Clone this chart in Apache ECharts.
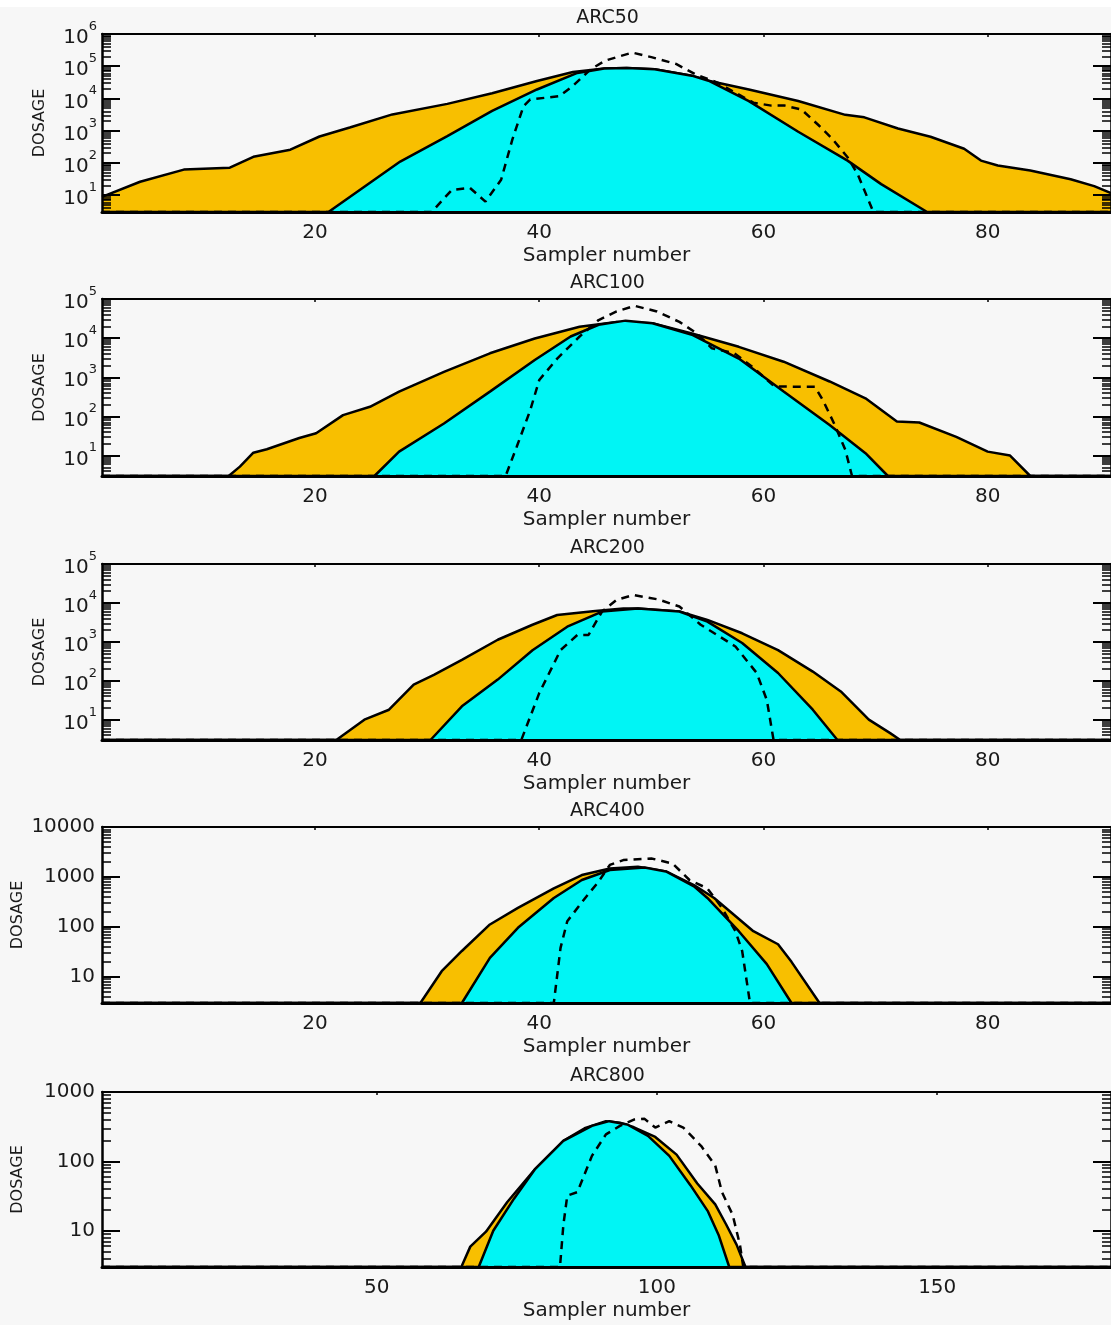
<!DOCTYPE html>
<html>
<head>
<meta charset="utf-8">
<script src="https://cdn.jsdelivr.net/npm/echarts@6/dist/echarts.min.js"></script>
<style>
html,body{margin:0;padding:0;background:#ffffff;}
#chart{width:1111px;height:1325px;}
</style>
</head>
<body>
<div id="chart"></div>
<script>
// ---------------- data ----------------
const panelTitles = ['ARC50', 'ARC100', 'ARC200', 'ARC400', 'ARC800'];
const samplerRange = [[1, 91], [1, 91], [1, 91], [1, 91], [1, 181]];
const xTickLabels = [[20, 40, 60, 80], [20, 40, 60, 80], [20, 40, 60, 80], [20, 40, 60, 80], [50, 100, 150]];
const dosageMin = 3;
const dosageMax = [1e6, 1e5, 1e5, 1e4, 1e3];
const dosageDecades = [
  [10, 100, 1e3, 1e4, 1e5, 1e6],
  [10, 100, 1e3, 1e4, 1e5],
  [10, 100, 1e3, 1e4, 1e5],
  [10, 100, 1000, 10000],
  [10, 100, 1000]
];
const superscriptLabels = [true, true, true, false, false];

// [sampler, dosage] pairs
const arc50Orange = [[1,8.8],[4.4,26],[8.3,62],[12.4,71],[14.5,155],[17.8,257],[20.4,660],[23.1,1260],[26.9,3200],[31.8,6800],[35.8,14500],[39.8,35000],[43,66000],[45.8,85000],[47.8,88000],[50.3,80000],[53.6,51000],[55.1,35500],[58.7,19000],[63.1,8300],[67.3,3100],[69,2600],[72,1170],[74.9,650],[77.9,275],[79.4,118],[80.9,83],[83.8,58],[87.4,31],[89.5,19],[91,11.5]];
const arc50Cyan = [[1,3],[21.2,3],[27.6,110],[31.8,680],[35.8,4100],[39.8,19000],[43.4,62000],[45.8,85000],[47.8,88000],[50.3,80000],[53.6,51000],[55.1,35500],[58.7,8300],[63.1,930],[67.5,118],[70.5,22],[74.6,3],[91,3]];
const arc50Dashed = [[1,3],[30.4,3],[32.2,14.5],[33.8,17],[35.2,6.3],[36.6,30],[37.6,530],[38.6,5800],[39.2,9300],[41.8,11800],[43,24500],[44.6,81000],[45.9,150000],[48.3,265000],[50,192000],[52.2,118000],[53.9,57000],[55.9,31000],[57.5,15000],[59.1,7400],[60.7,6000],[61.9,6000],[63.4,4500],[64.9,1500],[66.1,580],[67.5,150],[68.4,45],[69.3,8],[69.8,3],[91,3]];

const arc100Orange = [[1,3],[12.3,3],[13.3,5.2],[14.5,11.8],[15.7,14.5],[18.6,28],[20.1,37],[22.5,108],[24.9,176],[27.5,430],[31.5,1380],[35.6,4100],[39.6,9800],[43.6,19500],[46.9,26000],[50.1,24000],[53.7,13000],[57.8,6000],[61.8,2500],[65.9,780],[69.1,290],[71.9,74],[73.9,70],[77.2,30],[80,12.6],[82,10],[83.8,3],[91,3]];
const arc100Cyan = [[1,3],[25.3,3],[27.5,12.6],[31.5,66],[35.6,430],[39.6,2750],[42.8,11000],[45.3,22000],[47.7,28000],[50.1,24000],[53.7,12000],[57.8,3000],[61.8,430],[65.9,60],[69.1,11.5],[71.1,3],[91,3]];
const arc100Dashed = [[1,3],[37,3],[38,17],[39.2,145],[40,850],[41.6,3000],[43.6,11000],[45.3,29000],[46.9,48000],[48.5,67000],[50.5,48000],[52.5,26000],[54.1,13000],[55.4,5500],[57.4,4100],[59,1850],[61,580],[64.6,570],[65.3,260],[66.3,66],[67.3,14],[67.9,3],[91,3]];

const arc200Orange = [[1,3],[21.9,3],[24.4,10],[26.6,18],[28.8,79],[30.6,142],[33.1,345],[36.3,1130],[39.4,2750],[41.6,4900],[45,6200],[47.5,7200],[48.8,7200],[52.5,6000],[55,3650],[58.1,1660],[61.3,610],[64.4,172],[66.9,53],[69.4,10],[71.3,4.5],[72.2,3],[91,3]];
const arc200Cyan = [[1,3],[30.3,3],[33.1,22],[36.3,107],[39.4,610],[42.5,2450],[45.6,6000],[48.8,7200],[52.5,6000],[55,3300],[58.1,930],[61.3,158],[64.4,18],[66.6,3],[91,3]];
const arc200Dashed = [[1,3],[38.4,3],[40,48],[41.9,610],[43.4,1500],[44.4,1500],[45.6,6000],[46.9,12000],[48.4,16000],[50.6,12300],[52.5,8100],[54.4,2750],[57.5,760],[59.4,158],[60.3,32],[60.9,3],[91,3]];

const arc400Orange = [[1,3],[29.4,3],[31.3,13],[33.1,33],[35.6,112],[38.1,240],[41.3,590],[43.8,1090],[46.3,1480],[48.8,1600],[51.3,1290],[53.8,690],[55.6,380],[59.1,82],[61.3,45],[62.5,20],[65,3],[91,3]];
const arc400Cyan = [[1,3],[33.1,3],[35.6,24],[38.1,96],[41.3,380],[43.8,870],[46.3,1380],[49.4,1550],[51.3,1290],[53.8,650],[55,380],[57.8,82],[60.3,18],[62.5,3],[91,3]];
const arc400Dashed = [[1,3],[41.3,3],[41.9,38],[42.5,130],[44.1,380],[45.3,810],[46.3,1740],[47.5,2180],[50,2350],[51.9,1850],[53.4,870],[55,590],[56.3,240],[57.5,82],[58.1,33],[58.8,3],[91,3]];

const arc800Orange = [[1,3],[65.1,3],[66.7,5.9],[69.5,9.7],[73.3,26],[78.3,78],[83.3,198],[87.1,300],[90.9,380],[93.4,360],[95.9,310],[99.7,225],[103.5,125],[107.2,48],[110.4,24],[112.3,12.5],[114.2,6.3],[115.8,3],[181,3]];
const arc800Cyan = [[1,3],[68.2,3],[70.8,10],[74.5,29],[78.3,78],[83.3,198],[88.4,325],[91.5,380],[94.7,340],[98.4,233],[102.2,120],[106,45],[109.1,19],[111,8.7],[112.9,3],[181,3]];
const arc800Dashed = [[1,3],[82.7,3],[83.3,12],[84,32],[85.8,36],[88.4,120],[90.9,245],[93.4,325],[95.9,400],[97.8,410],[99.7,307],[102.2,380],[104.7,307],[107.9,166],[110.4,87],[111.6,36],[113.5,17],[114.8,6.3],[115.4,3],[181,3]];

const orangeSeries = [arc50Orange, arc100Orange, arc200Orange, arc400Orange, arc800Orange];
const cyanSeries = [arc50Cyan, arc100Cyan, arc200Cyan, arc400Cyan, arc800Cyan];
const dashedSeries = [arc50Dashed, arc100Dashed, arc200Dashed, arc400Dashed, arc800Dashed];

// ---------------- layout / style ----------------
const gridTop = [34, 299, 564, 827, 1092];
const gridHeight = [178, 177, 176, 176, 175];
const gridLeft = 102;
const gridWidth = 1011;
const dosageNameX = [40, 40, 40, 18, 18];
const yLabelMargin = [5, 5, 5, 7, 7];
const FONT = 'DejaVu Sans';
const TXT = '#1a1a1a';
const ORANGE = '#F8BF00';
const CYAN = '#00F5F5';

const option = {
  backgroundColor: '#F7F7F7',
  animation: false,
  grid: [], xAxis: [], yAxis: [], series: [],
  graphic: [{ type: 'rect', shape: { x: 0, y: 0, width: 1111, height: 7 }, style: { fill: '#ffffff' }, silent: true }]
};

function minorValues(max) {
  const vals = [];
  for (let d = 1; d < max; d *= 10) {
    for (let k = 2; k <= 9; k++) {
      const v = k * d;
      if (v >= dosageMin && v < max) vals.push(v);
    }
  }
  return vals;
}

panelTitles.forEach((title, i) => {
  option.grid.push({ left: gridLeft, top: gridTop[i], width: gridWidth, height: gridHeight[i] });
  const [xmin, xmax] = samplerRange[i];
  option.xAxis.push({
    type: 'value', gridIndex: i, min: xmin, max: xmax, position: 'bottom', z: 6,
    axisLine: { show: true, onZero: false, lineStyle: { color: '#000', width: 3 } },
    axisTick: { show: false },
    splitLine: { show: false },
    axisLabel: { customValues: xTickLabels[i], fontFamily: FONT, fontSize: 20, color: TXT, margin: 11 },
    name: 'Sampler number', nameLocation: 'middle', nameGap: 34,
    nameTextStyle: { fontFamily: FONT, fontSize: 20, color: TXT }
  });
  option.xAxis.push({
    type: 'value', gridIndex: i, min: xmin, max: xmax, position: 'top', z: 6,
    axisLine: { show: true, onZero: false, lineStyle: { color: '#000', width: 2 } },
    axisTick: { show: true, inside: true, length: 3, customValues: xTickLabels[i], lineStyle: { color: '#000', width: 1.5 } },
    axisLabel: { show: false },
    splitLine: { show: false }
  });
  const decades = dosageDecades[i];
  const minors = minorValues(dosageMax[i]);
  const sup = superscriptLabels[i];
  const baseY = { type: 'log', logBase: 10, gridIndex: i, min: dosageMin, max: dosageMax[i], z: 6, splitLine: { show: false }, minorTick: { show: false } };
  option.yAxis.push(Object.assign({}, baseY, {
    position: 'left',
    axisLine: { show: true, onZero: false, lineStyle: { color: '#000', width: 2.5 } },
    axisTick: { show: true, inside: true, length: 18, customValues: decades, lineStyle: { color: '#000', width: 2 } },
    axisLabel: {
      customValues: decades, margin: yLabelMargin[i],
      fontFamily: FONT, fontSize: 20, color: TXT,
      formatter: v => sup ? ('{b|10}{e|' + Math.round(Math.log10(v)) + '}') : String(Math.round(v)),
      rich: {
        b: { fontFamily: FONT, fontSize: 20, color: TXT, verticalAlign: 'bottom', lineHeight: 28 },
        e: { fontFamily: FONT, fontSize: 13, color: TXT, verticalAlign: 'top', lineHeight: 28 }
      }
    }
  }));
  option.yAxis.push(Object.assign({}, baseY, {
    position: 'left',
    axisLine: { show: false },
    axisTick: { show: true, inside: true, length: 9, customValues: minors, lineStyle: { color: '#000', width: 1.5 } },
    axisLabel: { show: false }
  }));
  option.yAxis.push(Object.assign({}, baseY, {
    position: 'right',
    axisLine: { show: true, onZero: false, lineStyle: { color: '#000', width: 2.5 } },
    axisTick: { show: true, inside: true, length: 18, customValues: decades, lineStyle: { color: '#000', width: 2 } },
    axisLabel: { show: false }
  }));
  option.yAxis.push(Object.assign({}, baseY, {
    position: 'right',
    axisLine: { show: false },
    axisTick: { show: true, inside: true, length: 9, customValues: minors, lineStyle: { color: '#000', width: 1.5 } },
    axisLabel: { show: false }
  }));

  const common = { type: 'line', xAxisIndex: 2 * i, yAxisIndex: 4 * i, symbol: 'none', showSymbol: false, clip: true, silent: true, smooth: false };
  option.series.push(Object.assign({}, common, {
    name: title + ' orange', data: orangeSeries[i], z: 2,
    lineStyle: { color: '#000', width: 2.5 },
    areaStyle: { color: ORANGE, opacity: 1, origin: 'start' }
  }));
  option.series.push(Object.assign({}, common, {
    name: title + ' cyan', data: cyanSeries[i], z: 3,
    lineStyle: { color: '#000', width: 2.5 },
    areaStyle: { color: CYAN, opacity: 1, origin: 'start' }
  }));
  option.series.push(Object.assign({}, common, {
    name: title + ' dashed', data: dashedSeries[i], z: 4,
    lineStyle: { color: '#000', width: 2.5, type: [8, 6] }
  }));

  option.graphic.push({
    type: 'text', x: gridLeft + gridWidth / 2, y: gridTop[i] - 16, silent: true,
    style: { text: title, font: '19px "DejaVu Sans"', fill: TXT, align: 'center', verticalAlign: 'middle', textAlign: 'center', textVerticalAlign: 'middle' }
  });
  option.graphic.push({
    type: 'text', x: dosageNameX[i], y: gridTop[i] + gridHeight[i] / 2, rotation: Math.PI / 2, silent: true,
    style: { text: 'DOSAGE', font: '16px "DejaVu Sans"', fill: TXT, align: 'center', verticalAlign: 'middle', textAlign: 'center', textVerticalAlign: 'middle' }
  });
});

const chart = echarts.init(document.getElementById('chart'), null, { renderer: 'canvas' });
chart.setOption(option);
</script>
</body>
</html>
